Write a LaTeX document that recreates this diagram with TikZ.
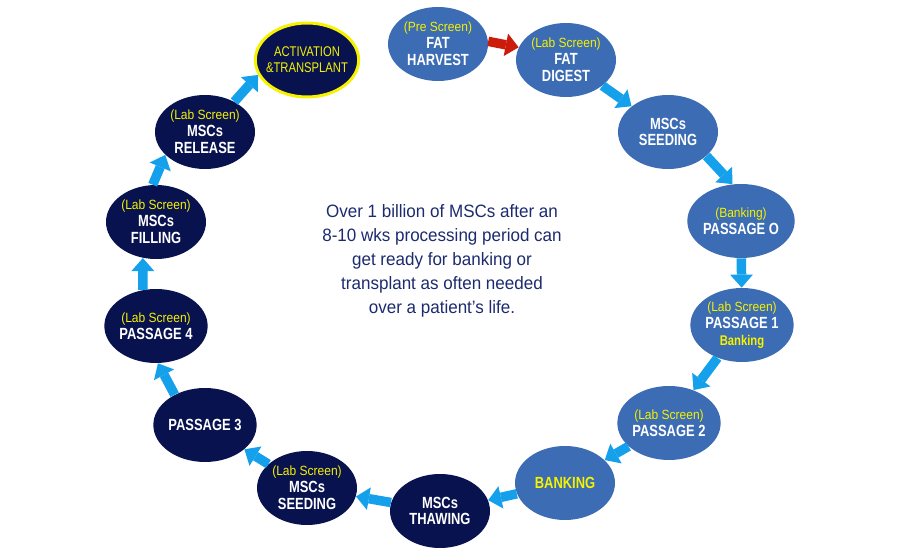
\documentclass[tikz,border=0pt]{standalone}
\usepackage{fontspec}
\setmainfont{Liberation Sans}
\newfontfamily\labfont{Liberation Sans}[FakeStretch=0.8]
\newfontfamily\subfont{Liberation Sans}[FakeStretch=0.9]
\newfontfamily\bodyfont{Liberation Sans}[FakeStretch=0.95]
\usetikzlibrary{arrows.meta,shapes.geometric}
\definecolor{navy}{HTML}{08124F}
\definecolor{steel}{HTML}{3B6CB4}
\definecolor{sky}{HTML}{14A0EA}
\definecolor{brick}{HTML}{CC1B0B}
\definecolor{lemon}{HTML}{F6F200}
\definecolor{ink}{HTML}{1C2A6E}
\newcommand{\cscr}[1]{{\subfont\mdseries\fontsize{7.6}{9.6}\selectfont\textcolor{lemon}{#1}}}

\begin{document}
\begin{tikzpicture}[x=0.02cm,y=-0.02cm,
    stage/.style={ellipse,inner sep=0pt,minimum width=2cm,minimum height=1.48cm,
      align=center,text=white,font=\labfont\bfseries\fontsize{9.2}{9.6}\selectfont},
    early/.style={stage,fill=steel},
    late/.style={stage,fill=navy},
    flow/.style={sky,line width=5.4pt,-{Triangle[width=13pt,length=7.4pt,line width=0pt]}}]
  \useasboundingbox (0,0) rectangle (900,560);
  \node[early] (harvest) at (438,44) {\cscr{(Pre Screen)}\\FAT\\HARVEST};
  \node[early] (digest) at (566,60) {\cscr{(Lab Screen)}\\FAT\\DIGEST};
  \node[early] (seed) at (668,132) {MSCs\\SEEDING};
  \node[early] (pzero) at (741,221) {\cscr{(Banking)}\\PASSAGE O};
  \node[early] (pone) at (742,325)
    {\cscr{(Lab Screen)}\\PASSAGE 1\\{\fontsize{8}{9.6}\selectfont\textcolor{lemon}{Banking}}};
  \node[early] (ptwo) at (669,423) {\cscr{(Lab Screen)}\\PASSAGE 2};
  \node[early,text=lemon] (bank) at (565,483) {BANKING};
  \node[late] (thaw) at (440,511) {MSCs\\THAWING};
  \node[late] (reseed) at (307,488) {\cscr{(Lab Screen)}\\MSCs\\SEEDING};
  \node[late] (pthree) at (205,425) {PASSAGE 3};
  \node[late] (pfour) at (156,326) {\cscr{(Lab Screen)}\\PASSAGE 4};
  \node[late] (filling) at (156,222) {\cscr{(Lab Screen)}\\MSCs\\FILLING};
  \node[late] (release) at (205,132) {\cscr{(Lab Screen)}\\MSCs\\RELEASE};
  \node[late,draw=lemon,line width=1.7pt,text=lemon,inner xsep=-2.5pt,minimum width=2.06cm,
    font=\labfont\mdseries\fontsize{8}{9.2}\selectfont] (transplant) at (307,60)
    {ACTIVATION\\\&TRANSPLANT};
  \node[font=\bodyfont\fontsize{10.2}{13.6}\selectfont,text=ink,align=center] (note) at (442,261)
    {Over 1 billion of MSCs after an\\8-10 wks processing period can\\get ready for banking or\\transplant as often needed\\over a patient’s life.};
  \draw[flow,brick] (harvest.3) -- (digest.165);
  \draw[flow] (digest) -- (seed);
  \draw[flow] (seed.-32) -- (pzero.103);
  \draw[flow] (pzero) -- (pone);
  \draw[flow] (pone) -- (ptwo);
  \draw[flow] (ptwo) -- (bank);
  \draw[flow] (bank) -- (thaw);
  \draw[flow] (thaw) -- (reseed);
  \draw[flow] (reseed) -- (pthree);
  \draw[flow] (pthree.135) -- (pfour.-87);
  \draw[flow] (pfour.110) -- (filling.-110);
  \draw[flow] (filling.95) -- (release.210);
  \draw[flow] (release.46) -- (transplant.197);
\end{tikzpicture}
\end{document}
